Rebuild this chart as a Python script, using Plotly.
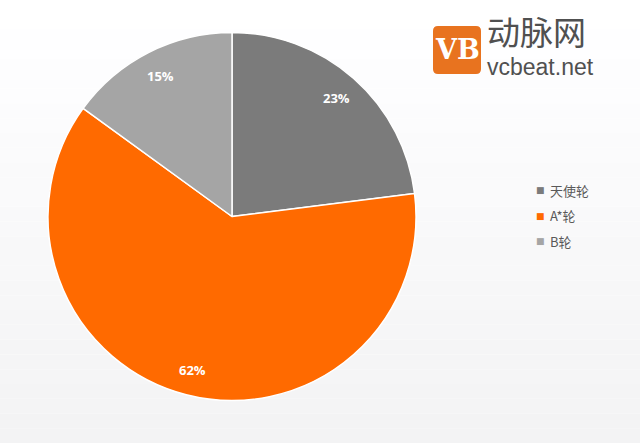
import math
import plotly.graph_objects as go

labels = ["天使轮", "A*轮", "B轮"]
values = [23, 62, 15]
colors = ["#7b7b7b", "#ff6a00", "#a5a5a5"]

W, H = 640, 443

def px(x):
    return x / W

def py(y):
    return 1 - y / H

# pie geometry (pixels)
CX, CY, R = 232, 216.5, 184
LABEL_R = 0.86

fig = go.Figure()
fig.add_trace(go.Pie(
    labels=labels,
    values=values,
    sort=False,
    direction="clockwise",
    rotation=0,
    marker=dict(colors=colors, line=dict(color="white", width=1.5)),
    textinfo="none",
    hoverinfo="label+percent",
    showlegend=False,
    domain=dict(x=[px(CX - R), px(CX + R)], y=[py(CY + R), py(CY - R)]),
))

annotations = []

# percentage labels, placed along each slice bisector
total = sum(values)
cum = 0
for lab, v in zip(labels, values):
    mid = (cum + v / 2) / total * 2 * math.pi
    cum += v
    lx = CX + LABEL_R * R * math.sin(mid)
    ly = CY - LABEL_R * R * math.cos(mid)
    annotations.append(dict(x=px(lx), y=py(ly), xref="paper", yref="paper",
                            text=f"<b>{round(v / total * 100)}%</b>", showarrow=False,
                            font=dict(family="Open Sans", size=13, color="white"),
                            xanchor="center", yanchor="middle"))

# legend (small squares + labels)
LEG_X, LEG_Y0, LEG_DY = 540, 190, 25.5
for i, (lab, col) in enumerate(zip(labels, colors)):
    yy = LEG_Y0 + i * LEG_DY
    annotations.append(dict(x=px(LEG_X), y=py(yy), xref="paper", yref="paper",
                            text="■", showarrow=False,
                            font=dict(family="DejaVu Sans", size=9, color=col),
                            xanchor="center", yanchor="middle"))
    annotations.append(dict(x=px(LEG_X + 8), y=py(yy), xref="paper", yref="paper",
                            text=lab, showarrow=False,
                            font=dict(family="Noto Sans CJK SC", size=13, color="#595959"),
                            xanchor="left", yanchor="middle"))

# background gradient (white -> light grey)
shapes = []
n = 30
for i in range(n):
    t = i / (n - 1)
    c = int(round(255 - t * 12))
    shapes.append(dict(type="rect", xref="paper", yref="paper",
                       x0=0, x1=1, y0=1 - (i + 1) / n, y1=1 - i / n,
                       fillcolor=f"rgb({c},{c},{min(255, c + 1)})",
                       line=dict(width=0), layer="below"))

# logo box
x0, x1, y0, y1, r = 433, 481, 26, 74, 5
path = (f"M {px(x0 + r)},{py(y0)} L {px(x1 - r)},{py(y0)} Q {px(x1)},{py(y0)} {px(x1)},{py(y0 + r)} "
        f"L {px(x1)},{py(y1 - r)} Q {px(x1)},{py(y1)} {px(x1 - r)},{py(y1)} "
        f"L {px(x0 + r)},{py(y1)} Q {px(x0)},{py(y1)} {px(x0)},{py(y1 - r)} "
        f"L {px(x0)},{py(y0 + r)} Q {px(x0)},{py(y0)} {px(x0 + r)},{py(y0)} Z")
shapes.append(dict(type="path", xref="paper", yref="paper", path=path,
                   fillcolor="#e8731f", line=dict(width=0), layer="above"))

annotations += [
    dict(x=px(457), y=py(50), xref="paper", yref="paper", text="<b>VB</b>",
         showarrow=False, font=dict(family="DejaVu Serif", size=27, color="white"),
         xanchor="center", yanchor="middle"),
    dict(x=px(485), y=py(48), xref="paper", yref="paper",
         text="<span style='font-size:33px'>动脉网</span><br>"
              "<span style='font-size:23px'>vcbeat.net</span>",
         showarrow=False, align="left",
         font=dict(family="Liberation Sans, Noto Sans CJK SC", size=23, color="#505050"),
         xanchor="left", yanchor="middle"),
]

fig.update_layout(
    width=W, height=H,
    margin=dict(l=0, r=0, t=0, b=0),
    paper_bgcolor="white",
    plot_bgcolor="white",
    shapes=shapes,
    annotations=annotations,
    showlegend=False,
)

fig.write_html("out.html",
               config={"displayModeBar": False},
               post_script="document.body.style.margin='0';document.body.style.padding='0';")
